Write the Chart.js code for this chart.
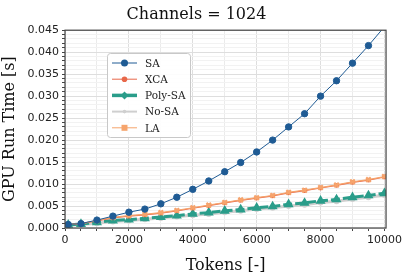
<!DOCTYPE html>
<html>
<head>
<meta charset="utf-8">
<script src="https://cdn.jsdelivr.net/npm/chart.js@4"></script>
<style>
  html, body { margin: 0; padding: 0; background: #fff; }
  #wrap { width: 405px; height: 276px; }
</style>
</head>
<body>
<div id="wrap"><canvas id="runChart" width="405" height="276"></canvas></div>
<script>
// Tokens on the x axis
const tokens = [100, 500, 1000, 1500, 2000, 2500, 3000, 3500, 4000, 4500, 5000,
                5500, 6000, 6500, 7000, 7500, 8000, 8500, 9000, 9500, 10000];

// GPU run time in seconds
const saTime = [0.0008, 0.0010, 0.0018, 0.0027, 0.0036, 0.0043, 0.0055, 0.0070, 0.0088, 0.0107, 0.0128,
                0.0149, 0.0173, 0.0200, 0.0230, 0.0260, 0.0300, 0.0335, 0.0375, 0.0415, 0.0458];
const xcaTime = [0.0008, 0.0010, 0.0016, 0.0023, 0.0027, 0.0030, 0.0034, 0.0039, 0.0045, 0.0051, 0.0057,
                 0.0063, 0.0068, 0.0073, 0.0080, 0.0085, 0.0091, 0.0097, 0.0104, 0.0109, 0.0116];
const polyTime = [0.0007, 0.0009, 0.0013, 0.0017, 0.0019, 0.0022, 0.0025, 0.0028, 0.0032, 0.0035, 0.0039,
                  0.0042, 0.0046, 0.0049, 0.0054, 0.0057, 0.0062, 0.0065, 0.0070, 0.0074, 0.0079];
const noSaTime = [0.0006, 0.0008, 0.0011, 0.0015, 0.0017, 0.0020, 0.0023, 0.0026, 0.0029, 0.0032, 0.0036,
                  0.0039, 0.0043, 0.0046, 0.0050, 0.0053, 0.0058, 0.0061, 0.0066, 0.0070, 0.0075];
const laTime = [0.0008, 0.0010, 0.0017, 0.0024, 0.0028, 0.0031, 0.0035, 0.0040, 0.0046, 0.0052, 0.0058,
                0.0064, 0.0069, 0.0074, 0.0081, 0.0086, 0.0092, 0.0098, 0.0105, 0.0110, 0.0117];

const xTicks = [0, 2000, 4000, 6000, 8000, 10000];
const yTicks = [0, 0.005, 0.01, 0.015, 0.02, 0.025, 0.03, 0.035, 0.04, 0.045];

const colors = {
    sa: "#1f5b94",
    xca: "#e8684a",
    poly: "#2a9d8a",
    nosa: "#cfcfcf",
    la: "#f6a46c"
};

function pts(ys) {
    return tokens.map(function (t, i) { return { x: t, y: ys[i] }; });
}

const near = function (v, list, eps) {
    return list.some(function (m) { return Math.abs(v - m) < eps; });
};

// Box around the plot area and a matplotlib style legend
const framePlugin = {
    id: "frame",
    afterDraw: function (chart) {
        const c = chart.ctx, a = chart.chartArea;
        c.save();
        c.strokeStyle = "#444";
        c.lineWidth = 1.2;
        c.strokeRect(a.left, a.top, a.right - a.left, a.bottom - a.top);

        // legend
        const bx = 107, by = 53, bw = 83, bh = 84;
        c.fillStyle = "rgba(255,255,255,0.9)";
        c.strokeStyle = "#c8c8c8";
        c.lineWidth = 1;
        c.beginPath();
        c.roundRect(bx + 0.5, by + 0.5, bw, bh, 3);
        c.fill();
        c.stroke();
        const items = chart.options.plugins.frame.items;
        items.forEach(function (it, i) {
            const y = by + 10 + i * 16.2;
            c.strokeStyle = it.color;
            c.lineWidth = it.width;
            c.beginPath();
            c.moveTo(bx + 5, y);
            c.lineTo(bx + 30, y);
            c.stroke();
            c.fillStyle = it.color;
            c.beginPath();
            if (it.marker === "diamond") {
                c.moveTo(bx + 17.5, y - 4); c.lineTo(bx + 21.5, y); c.lineTo(bx + 17.5, y + 4); c.lineTo(bx + 13.5, y);
                c.closePath();
            } else if (it.marker === "square") {
                c.rect(bx + 14.5, y - 3, 6, 6);
            } else {
                c.arc(bx + 17.5, y, it.r, 0, Math.PI * 2);
            }
            c.fill();
            c.fillStyle = "#222";
            c.font = "10.5px 'DejaVu Serif', 'Liberation Serif', serif";
            c.textBaseline = "middle";
            c.fillText(it.label, bx + 38, y + 1);
        });
        c.restore();
    }
};

new Chart(document.getElementById("runChart"), {
    type: "line",
    data: {
        datasets: [
            { label: "SA", data: pts(saTime), borderColor: colors.sa, backgroundColor: colors.sa,
              borderWidth: 1, pointStyle: "circle", pointRadius: 3.2, order: 0 },
            { label: "LA", data: pts(laTime), borderColor: colors.la, backgroundColor: colors.la,
              borderWidth: 1.2, pointStyle: "crossRot", pointRadius: 3.2, pointBorderWidth: 2.2, order: 1 },
            { label: "XCA", data: pts(xcaTime), borderColor: colors.xca, backgroundColor: colors.xca,
              borderWidth: 1.2, pointStyle: "circle", pointRadius: 1.8, order: 2 },
            { label: "Poly-SA", data: pts(polyTime), borderColor: colors.poly, backgroundColor: colors.poly,
              borderWidth: 3, borderDash: [9, 3], pointStyle: "triangle", pointRadius: 2.8, order: 3 },
            { label: "No-SA", data: pts(noSaTime), borderColor: colors.nosa, backgroundColor: colors.nosa,
              borderWidth: 3, pointStyle: "circle", pointRadius: 1.5, order: 4 }
        ]
    },
    options: {
        responsive: false,
        animation: false,
        layout: { padding: { left: 0, right: 12, top: 0, bottom: 1 } },
        elements: { line: { tension: 0 } },
        plugins: {
            legend: { display: false },
            tooltip: { enabled: false },
            title: {
                display: true,
                text: "Channels = 1024",
                color: "#111",
                font: { family: "'DejaVu Serif', 'Liberation Serif', serif", size: 16, weight: "normal" },
                padding: { top: 5, bottom: 6 }
            },
            frame: {
                items: [
                    { label: "SA", color: colors.sa, width: 1, marker: "circle", r: 3.5 },
                    { label: "XCA", color: colors.xca, width: 1, marker: "circle", r: 2.8 },
                    { label: "Poly-SA", color: colors.poly, width: 3.5, marker: "diamond" },
                    { label: "No-SA", color: colors.nosa, width: 2, marker: "circle", r: 1.8 },
                    { label: "LA", color: colors.la, width: 1, marker: "square" }
                ]
            }
        },
        scales: {
            x: {
                type: "linear",
                min: 0,
                max: 10050,
                afterBuildTicks: function (s) {
                    const t = [];
                    for (let v = 0; v <= 10000; v += 500) t.push({ value: v });
                    s.ticks = t;
                },
                afterFit: function (s) { s.height = 47; },
                ticks: {
                    color: "#222",
                    font: { family: "'DejaVu Sans', sans-serif", size: 11 },
                    maxRotation: 0,
                    padding: 3,
                    autoSkip: false,
                    callback: function (v) { return near(v, xTicks, 1) ? String(v) : ""; }
                },
                grid: {
                    color: function (ctx) {
                        const v = ctx.tick ? ctx.tick.value : 0;
                        if (near(v, xTicks, 1)) return "#dedede";
                        return v % 1000 === 0 ? "#ebebeb" : "rgba(0,0,0,0)";
                    },
                    tickColor: "#444",
                    tickLength: 3
                },
                border: { display: false },
                title: {
                    display: true,
                    text: "Tokens [-]",
                    color: "#111",
                    font: { family: "'DejaVu Serif', 'Liberation Serif', serif", size: 16 },
                    padding: { top: 0, bottom: 0 }
                }
            },
            y: {
                min: 0,
                max: 0.045,
                afterBuildTicks: function (s) {
                    const t = [];
                    for (let i = 0; i <= 45; i++) t.push({ value: i / 1000 });
                    s.ticks = t;
                },
                afterFit: function (s) { s.width = 65; },
                ticks: {
                    color: "#222",
                    font: { family: "'DejaVu Sans', sans-serif", size: 11 },
                    padding: 3,
                    autoSkip: false,
                    callback: function (v) { return near(v, yTicks, 1e-6) ? v.toFixed(3) : ""; }
                },
                grid: {
                    color: function (ctx) {
                        const v = ctx.tick ? ctx.tick.value : 0;
                        return near(v, yTicks, 1e-6) ? "#dedede" : "#f2f2f2";
                    },
                    tickColor: "#444",
                    tickLength: 3
                },
                border: { display: false },
                title: {
                    display: true,
                    text: "GPU Run Time [s]",
                    color: "#111",
                    font: { family: "'DejaVu Serif', 'Liberation Serif', serif", size: 16 },
                    padding: { top: 0, bottom: 2 }
                }
            }
        }
    },
    plugins: [framePlugin]
});
</script>
</body>
</html>
